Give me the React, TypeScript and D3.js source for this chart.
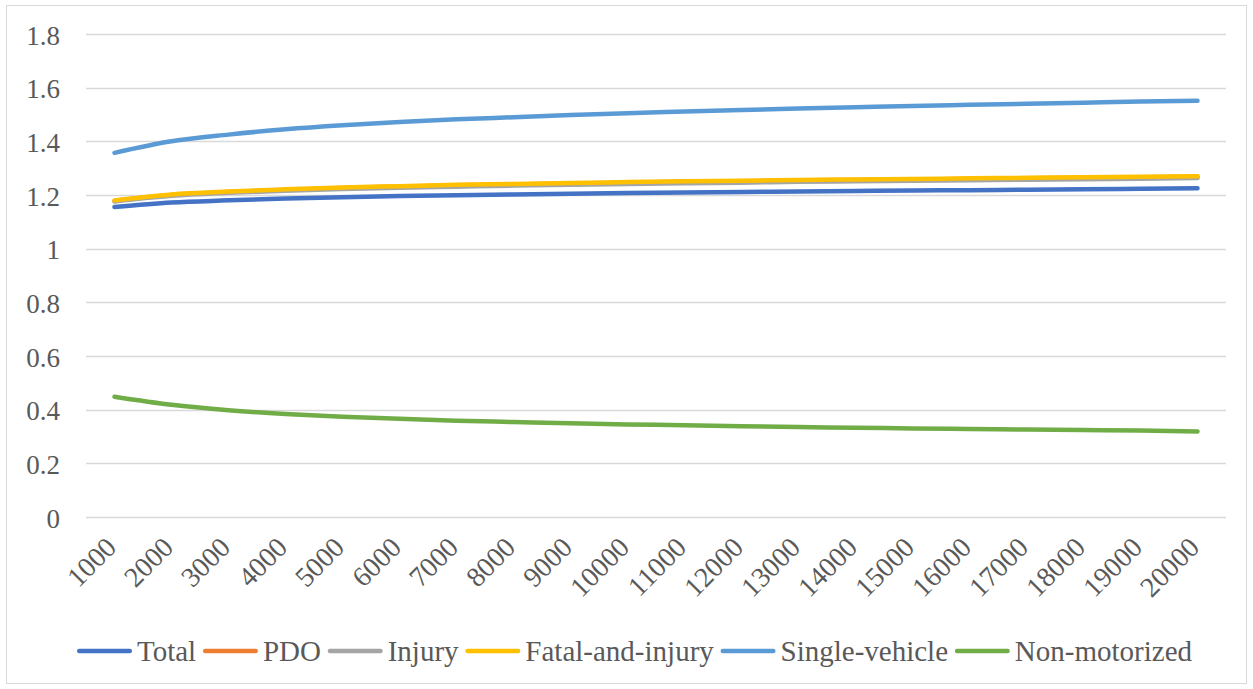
import React, { useEffect, useRef } from "react";
import * as d3 from "d3";

const categories = ["1000","2000","3000","4000","5000","6000","7000","8000","9000","10000","11000","12000","13000","14000","15000","16000","17000","18000","19000","20000"];
const total = [1.155,1.172,1.180,1.187,1.192,1.196,1.199,1.202,1.205,1.207,1.209,1.211,1.213,1.215,1.217,1.218,1.220,1.221,1.223,1.225];
const pdo = [1.178,1.200,1.211,1.219,1.226,1.231,1.236,1.239,1.243,1.246,1.249,1.251,1.254,1.256,1.258,1.260,1.262,1.264,1.266,1.268];
const injury = [1.176,1.197,1.208,1.216,1.222,1.227,1.231,1.235,1.238,1.241,1.244,1.246,1.249,1.251,1.253,1.255,1.257,1.259,1.261,1.263];
const fatalInjury = [1.180,1.202,1.213,1.221,1.228,1.233,1.238,1.241,1.245,1.248,1.251,1.253,1.256,1.258,1.260,1.262,1.264,1.266,1.268,1.270];
const singleVehicle = [1.357,1.400,1.425,1.445,1.460,1.472,1.482,1.490,1.498,1.505,1.511,1.517,1.522,1.527,1.532,1.536,1.540,1.544,1.548,1.551];
const nonMotorized = [0.448,0.418,0.398,0.384,0.374,0.366,0.359,0.354,0.349,0.345,0.342,0.338,0.335,0.333,0.330,0.328,0.326,0.324,0.322,0.319];
const yTicks = [0,0.2,0.4,0.6,0.8,1,1.2,1.4,1.6,1.8];

const seriesNames = ["Total","PDO","Injury","Fatal-and-injury","Single-vehicle","Non-motorized"];
const seriesValues = [total,pdo,injury,fatalInjury,singleVehicle,nonMotorized];
const seriesColors = ["#4472C4","#ED7D31","#A5A5A5","#FFC000","#5B9BD5","#70AD47"];

const W = 1253, H = 689;
const plot = { left: 86, right: 1226, top: 34, bottom: 517 };
const legendSpan = { left: 77, right: 1192, y: 651 };
const FONT = "'Liberation Serif', 'Times New Roman', serif";
const TEXT = "#595959";

export default function App() {
  const ref = useRef<SVGSVGElement>(null);
  useEffect(() => {
    const svg = d3.select(ref.current);
    svg.selectAll("*").remove();

    svg.append("rect").attr("x", 6.5).attr("y", 5.5).attr("width", 1240).attr("height", 678)
      .attr("fill", "#fff").attr("stroke", "#D9D9D9").attr("stroke-width", 1);

    const x = d3.scaleBand().domain(categories).range([plot.left, plot.right]);
    const y = d3.scaleLinear().domain([0, 1.8]).range([plot.bottom, plot.top]);

    const grid = svg.append("g");
    yTicks.forEach((t) => {
      grid.append("line").attr("x1", plot.left).attr("x2", plot.right)
        .attr("y1", Math.round(y(t)) + 0.5).attr("y2", Math.round(y(t)) + 0.5)
        .attr("stroke", "#D9D9D9").attr("stroke-width", 1.5);
      grid.append("text").attr("x", 60).attr("y", y(t) + 10.5)
        .attr("text-anchor", "end").style("font-family", FONT).style("font-size", "27px")
        .attr("fill", TEXT).text(d3.format("~g")(t));
    });

    categories.forEach((c) => {
      const cx = x(c)! + x.bandwidth() / 2;
      svg.append("text")
        .attr("transform", `translate(${cx + 3.5},${plot.bottom + 32}) rotate(-45)`)
        .attr("text-anchor", "end")
        .style("font-family", FONT).style("font-size", "28px").attr("fill", TEXT).text(c);
    });

    const line = d3.line<number>()
      .x((_, i) => x(categories[i])! + x.bandwidth() / 2)
      .y((v) => y(v))
      .curve(d3.curveMonotoneX);

    seriesValues.forEach((vals, i) => {
      svg.append("path").attr("d", line(vals)!).attr("fill", "none")
        .attr("stroke", seriesColors[i]).attr("stroke-width", 4.5)
        .attr("stroke-linecap", "round").attr("stroke-linejoin", "round");
    });

    // legend
    const lg = svg.append("g");
    const widths: number[] = [];
    const tmp = seriesNames.map((n) => {
      const t = lg.append("text").style("font-family", FONT).style("font-size", "29px").text(n);
      widths.push((t.node() as SVGTextElement).getComputedTextLength());
      return t;
    });
    const lineLen = 55, gap1 = 5;
    const used = widths.reduce((a, w) => a + lineLen + gap1 + w, 0);
    const gap2 = (legendSpan.right - legendSpan.left - used) / (seriesNames.length - 1);
    let cx = legendSpan.left;
    seriesNames.forEach((n, i) => {
      lg.append("line").attr("x1", cx + 2.25).attr("x2", cx + lineLen - 2.25)
        .attr("y1", legendSpan.y).attr("y2", legendSpan.y)
        .attr("stroke", seriesColors[i]).attr("stroke-width", 4.5).attr("stroke-linecap", "round");
      tmp[i].attr("x", cx + lineLen + gap1).attr("y", legendSpan.y + 9.5).attr("fill", TEXT);
      cx += lineLen + gap1 + widths[i] + gap2;
    });
  }, []);

  return (
    <svg ref={ref} width={W} height={H}
      style={{ position: "absolute", left: 0, top: 0, background: "#fff" }} />
  );
}
